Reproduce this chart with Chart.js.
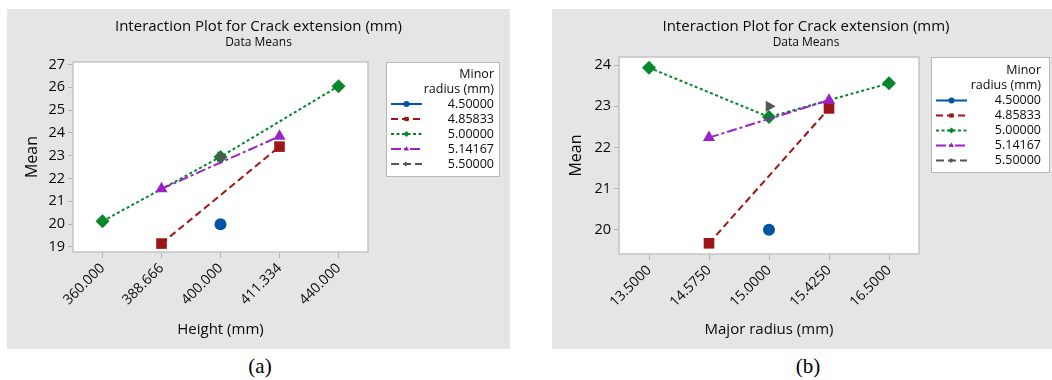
<!DOCTYPE html>
<html>
<head>
<meta charset="utf-8">
<script src="https://cdn.jsdelivr.net/npm/chart.js@4.4.0/dist/chart.umd.min.js"></script>
<style>
  body { margin: 0; background: #fff; width: 1052px; height: 380px; position: relative; overflow: hidden; }
  .panel { position: absolute; background: #e5e5e5; }
  .panel canvas { display: block; }
  .caption { position: absolute; font-family: "Liberation Serif", serif; font-size: 21px; color: #000; transform: translateX(-50%); }
</style>
</head>
<body>
<div class="panel" style="left:7px;top:9px;width:503px;height:340px"><canvas id="chartA" width="503" height="340"></canvas></div>
<div class="panel" style="left:552px;top:9px;width:500px;height:340px"><canvas id="chartB" width="500" height="340"></canvas></div>
<div class="caption" style="left:260px;top:354px">(a)</div>
<div class="caption" style="left:808px;top:354px">(b)</div>
<script>
const heightLabels = ['360.000', '388.666', '400.000', '411.334', '440.000'];
const majorRadiusLabels = ['13.5000', '14.5750', '15.0000', '15.4250', '16.5000'];
const minorRadii = ['4.50000', '4.85833', '5.00000', '5.14167', '5.50000'];

// Means vs height, one list per minor radius (null = level not run)
const heightMeans450 = [null, null, 20.0, null, null];
const heightMeans486 = [null, 19.15, null, 23.4, null];
const heightMeans500 = [20.13, null, 22.95, null, 26.05];
const heightMeans514 = [null, 21.55, null, 23.85, null];
const heightMeans550 = [null, null, 22.95, null, null];

// Means vs major radius
const radiusMeans450 = [null, null, 20.0, null, null];
const radiusMeans486 = [null, 19.67, null, 22.95, null];
const radiusMeans500 = [23.94, null, 22.74, null, 23.56];
const radiusMeans514 = [null, 22.24, null, 23.15, null];
const radiusMeans550 = [null, null, 23.0, null, null];

const FONT = '"Open Sans", "Noto Sans", sans-serif';
const INK = '#0a0a0a';

// one look per minor radius
const looks = [
  { color: '#0054a6', dash: [], point: 'circle', radius: 6, rot: 0 },
  { color: '#9c1616', dash: [7, 4], point: 'rect', radius: 7.5, rot: 0 },
  { color: '#06872b', dash: [3, 2.5], point: 'rectRot', radius: 7, rot: 0 },
  { color: '#9b22c8', dash: [10, 3, 3, 3], point: 'triangle', radius: 7, rot: 0 },
  { color: '#555555', dash: [8, 4], point: 'triangle', radius: 6.5, rot: 90 }
];

function makeDatasets(seriesList) {
  return seriesList.map((values, i) => ({
    label: minorRadii[i],
    data: values,
    borderColor: looks[i].color,
    backgroundColor: looks[i].color,
    borderWidth: 2,
    borderDash: looks[i].dash,
    pointStyle: looks[i].point,
    pointRadius: looks[i].radius,
    pointRotation: looks[i].rot,
    pointBorderWidth: 0,
    spanGaps: true,
    clip: false,
    order: seriesList.length - i
  }));
}

// frame, titles and the Minitab-like legend box
const panelDecor = {
  id: 'panelDecor',
  beforeDatasetsDraw(chart, args, opts) {
    const { ctx, chartArea: a } = chart;
    ctx.save();
    ctx.fillStyle = '#ffffff';
    ctx.fillRect(a.left, a.top, a.width, a.height);
    ctx.strokeStyle = '#c4c4c4';
    ctx.lineWidth = 1.5;
    ctx.strokeRect(a.left, a.top, a.width, a.height);
    ctx.restore();
  },
  afterDraw(chart, args, opts) {
    const { ctx } = chart;
    const cx = chart.width / 2 + opts.titleShift;
    ctx.save();
    ctx.fillStyle = INK;
    ctx.textAlign = 'center';
    ctx.textBaseline = 'middle';
    ctx.font = '15px ' + FONT;
    ctx.fillText('Interaction Plot for Crack extension (mm)', cx, 17.5);
    ctx.font = '12px ' + FONT;
    ctx.fillText('Data Means', cx, 33.5);

    // legend
    const L = opts.legend;
    ctx.fillStyle = '#ffffff';
    ctx.fillRect(L.x, L.y, L.w, L.h);
    ctx.strokeStyle = '#b8b8b8';
    ctx.lineWidth = 1;
    ctx.strokeRect(L.x + 0.5, L.y + 0.5, L.w, L.h);
    ctx.fillStyle = INK;
    ctx.textAlign = 'right';
    ctx.font = '12.5px ' + FONT;
    const tx = L.x + L.textRight;
    ctx.fillText('Minor', tx, L.y + L.row0);
    ctx.fillText('radius (mm)', tx, L.y + L.row0 + L.step);
    chart.data.datasets.forEach((ds, i) => {
      const y = L.y + L.row0 + L.step * (i + 2);
      ctx.save();
      ctx.strokeStyle = ds.borderColor;
      ctx.lineWidth = 2;
      ctx.setLineDash(ds.borderDash);
      ctx.beginPath();
      ctx.moveTo(L.x + 5, y);
      ctx.lineTo(L.x + 36, y);
      ctx.stroke();
      ctx.restore();
      ctx.fillStyle = ds.backgroundColor;
      Chart.helpers.drawPoint(ctx, { pointStyle: ds.pointStyle, radius: 3, rotation: ds.pointRotation, borderWidth: 0 }, L.x + 20.5, y);
      ctx.fillStyle = INK;
      ctx.fillText(ds.label, tx, y);
    });
    ctx.restore();
  }
};

function buildChart(id, labels, seriesList, cfg) {
  return new Chart(document.getElementById(id), {
    type: 'line',
    data: { labels: labels, datasets: makeDatasets(seriesList) },
    plugins: [panelDecor],
    options: {
      responsive: false,
      animation: false,
      layout: { padding: { top: cfg.area.top, right: cfg.right, left: 0, bottom: 0 } },
      plugins: {
        legend: { display: false },
        tooltip: { enabled: false },
        panelDecor: { legend: cfg.legend, titleShift: cfg.titleShift }
      },
      scales: {
        x: {
          type: 'category',
          offset: true,
          afterFit: s => { s.height = 340 - cfg.area.bottom; },
          grid: { offset: false, drawOnChartArea: false, tickLength: 6, color: '#b4b4b4' },
          border: { display: false },
          ticks: { minRotation: 45, maxRotation: 45, color: INK, font: { family: FONT, size: 14 }, padding: 2 },
          title: { display: true, text: cfg.xTitle, color: INK, font: { family: FONT, size: 15 }, padding: { top: 0, bottom: 10 } }
        },
        y: {
          min: cfg.yMin,
          max: cfg.yMax,
          afterFit: s => { s.width = cfg.area.left; },
          grid: { drawOnChartArea: false, tickLength: 5, color: '#b4b4b4' },
          border: { display: false },
          ticks: { stepSize: 1, includeBounds: false, color: INK, font: { family: FONT, size: 14.5 }, padding: 3 },
          title: { display: true, text: 'Mean', color: INK, font: { family: FONT, size: 16 }, padding: { top: cfg.meanPad, bottom: 0 } }
        }
      }
    }
  });
}

buildChart('chartA', heightLabels,
  [heightMeans450, heightMeans486, heightMeans500, heightMeans514, heightMeans550],
  {
    area: { left: 66, top: 53, bottom: 243 }, right: 142,
    yMin: 18.78, yMax: 27.11, xTitle: 'Height (mm)', meanPad: 16, titleShift: 0,
    legend: { x: 379, y: 53, w: 113, h: 114, textRight: 108, row0: 12, step: 15 }
  });

buildChart('chartB', majorRadiusLabels,
  [radiusMeans450, radiusMeans486, radiusMeans500, radiusMeans514, radiusMeans550],
  {
    area: { left: 67, top: 48, bottom: 245 }, right: 133,
    yMin: 19.41, yMax: 24.2, xTitle: 'Major radius (mm)', meanPad: 15, titleShift: 4,
    legend: { x: 379, y: 48, w: 118, h: 115, textRight: 110, row0: 13.5, step: 15 }
  });
</script>
</body>
</html>
